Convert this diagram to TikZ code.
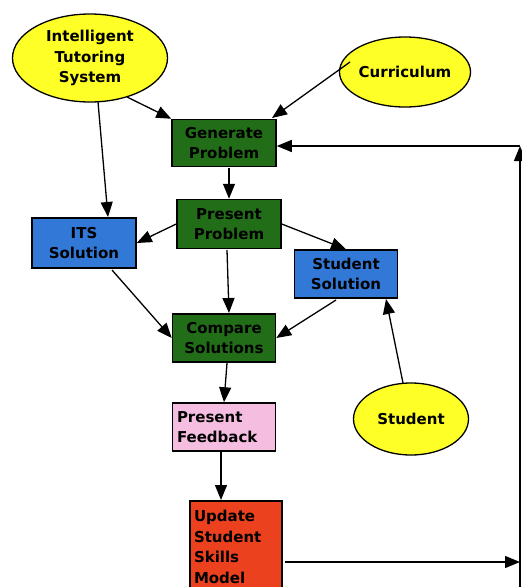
\documentclass[tikz,border=0pt]{standalone}
\usepackage{fontspec}
\setmainfont{DejaVu Sans}
\usetikzlibrary{shapes.geometric,arrows.meta}
\definecolor{yel}{RGB}{255,255,40}
\definecolor{grn}{RGB}{34,110,24}
\definecolor{blu}{RGB}{50,120,215}
\definecolor{pnk}{RGB}{245,190,225}
\definecolor{org}{RGB}{235,65,30}
\tikzset{
  x=1pt,y=-1pt,
  every node/.style={font=\bfseries\fontsize{15}{20.5}\selectfont},
  ell/.style={ellipse,draw=black,line width=1.3pt,fill=yel,inner sep=0pt,align=center},
  boxn/.style={rectangle,draw=black,line width=1.5pt,inner sep=0pt,align=center},
  arr/.style={line width=1.3pt,-{Triangle[length=15pt,width=12pt]}}
}
\begin{document}
\begin{tikzpicture}
\useasboundingbox (0,0) rectangle (522,587);
\node[ell,minimum width=155pt,minimum height=88pt] (its) at (90,58) {Intelligent\\Tutoring\\System};
\node[ell,minimum width=115pt,minimum height=70pt] (cur) at (405,72) {Curriculum};
\node[ell,minimum width=115pt,minimum height=72pt] (stu) at (411,419) {Student};
\node[boxn,fill=grn,minimum width=104pt,minimum height=47pt] (gen) at (224,143) {Generate\\Problem};
\node[boxn,fill=grn,minimum width=104pt,minimum height=49pt] (pres) at (229,224) {Present\\Problem};
\node[boxn,fill=blu,minimum width=104pt,minimum height=50pt] (itss) at (84,243) {ITS\\Solution};
\node[boxn,fill=blu,minimum width=103pt,minimum height=48pt] (stus) at (346,274) {Student\\Solution};
\node[boxn,fill=grn,minimum width=103pt,minimum height=48pt] (cmp) at (224,338) {Compare\\Solutions};
\node[boxn,fill=pnk,minimum width=103pt,minimum height=48pt,text width=94pt,align=left] (fb) at (224,427) {Present\\Feedback};
\node[boxn,fill=org,minimum width=92pt,minimum height=92pt,text width=84pt,align=left,anchor=north] (upd) at (236,500) {Update\\Student\\Skills\\Model};
\coordinate (br) at (520,562);
\coordinate (tr) at (520,146);
\draw[arr] (98,102) -- (108,217);
\draw[arr] (127,97) -- (gen.north west);
\draw[arr] (350,62) -- (272,118);
\draw[arr] (229,168) -- (pres.north);
\draw[arr] (pres.west) -- (itss.east);
\draw[arr] (pres.east) -- (stus.north);
\draw[arr] (227,250) -- (229,313);
\draw[arr] (112,270) -- (cmp.west);
\draw[arr] (336,300) -- (cmp.east);
\draw[arr] (403,383) -- (386,299);
\draw[arr] (227,363) -- (fb.north);
\draw[arr] (221,452) -- (221,500);
\draw[arr] (285,562) -- (br);
\draw[arr] (520,587) -- (tr);
\draw[arr] (tr) -- (gen.east |- tr);
\end{tikzpicture}
\end{document}
